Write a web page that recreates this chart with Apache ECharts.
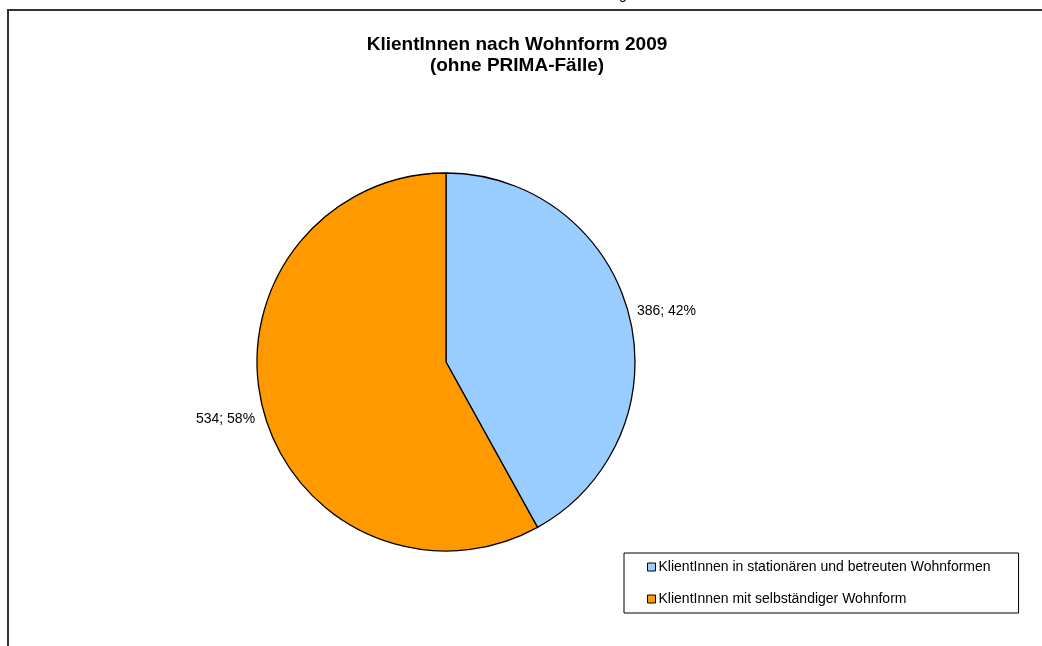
<!DOCTYPE html>
<html>
<head>
<meta charset="utf-8">
<script src="https://cdn.jsdelivr.net/npm/echarts@6/dist/echarts.min.js"></script>
<style>html,body{margin:0;padding:0;background:#fff;}#c{width:1042px;height:646px;}</style>
</head>
<body>
<div id="c"></div>
<script>
const titleLines = ['KlientInnen nach Wohnform 2009', '(ohne PRIMA-Fälle)'];
const categories = ['KlientInnen in stationären und betreuten Wohnformen', 'KlientInnen mit selbständiger Wohnform'];
const values = [386, 534];
const colors = ['#99CCFF', '#FF9900'];

const chart = echarts.init(document.getElementById('c'), null, {renderer: 'canvas'});
const total = values.reduce((a, b) => a + b, 0);
chart.setOption({
  animation: false,
  graphic: [
    {type: 'rect', shape: {x: 8, y: 10, width: 1060, height: 700}, style: {fill: 'none', stroke: '#333', lineWidth: 2}, z: 0},
    {type: 'text', x: 623, y: -12, style: {text: 'g', font: '14px Arial', fill: '#000', textAlign: 'center'}}
  ],
  title: {
    text: titleLines.join('\n'),
    left: 512, top: 29, textAlign: 'center',
    textStyle: {fontFamily: 'Liberation Sans, Arial', fontWeight: 'bold', fontSize: 19, lineHeight: 21, color: '#000'}
  },
  legend: {
    orient: 'vertical',
    left: 624, top: 553,
    padding: [7, 28, 7, 23],
    borderColor: '#000', borderWidth: 1,
    itemWidth: 8, itemHeight: 8, itemGap: 18,
    icon: 'rect',
    itemStyle: {borderColor: '#000', borderWidth: 1},
    textStyle: {fontFamily: 'Liberation Sans, Arial', fontSize: 14, lineHeight: 14, color: '#000', padding: [0, 0, 0, -2]},
    data: categories
  },
  series: [{
    type: 'pie',
    center: [446, 362],
    radius: 189,
    startAngle: 90,
    clockwise: true,
    silent: true,
    itemStyle: {borderColor: '#000', borderWidth: 1.3},
    label: {
      show: true, position: 'outside',
      fontFamily: 'Liberation Sans, Arial', fontSize: 14, color: '#000',
      formatter: p => p.value + '; ' + Math.round(p.value / total * 100) + '%'
    },
    labelLine: {show: false, length: 3, length2: 0},
    labelLayout: p => ({dy: p.dataIndex === 0 ? -3 : 9}),
    data: categories.map((c, i) => ({name: c, value: values[i], itemStyle: {color: colors[i]}}))
  }]
});
</script>
</body>
</html>
